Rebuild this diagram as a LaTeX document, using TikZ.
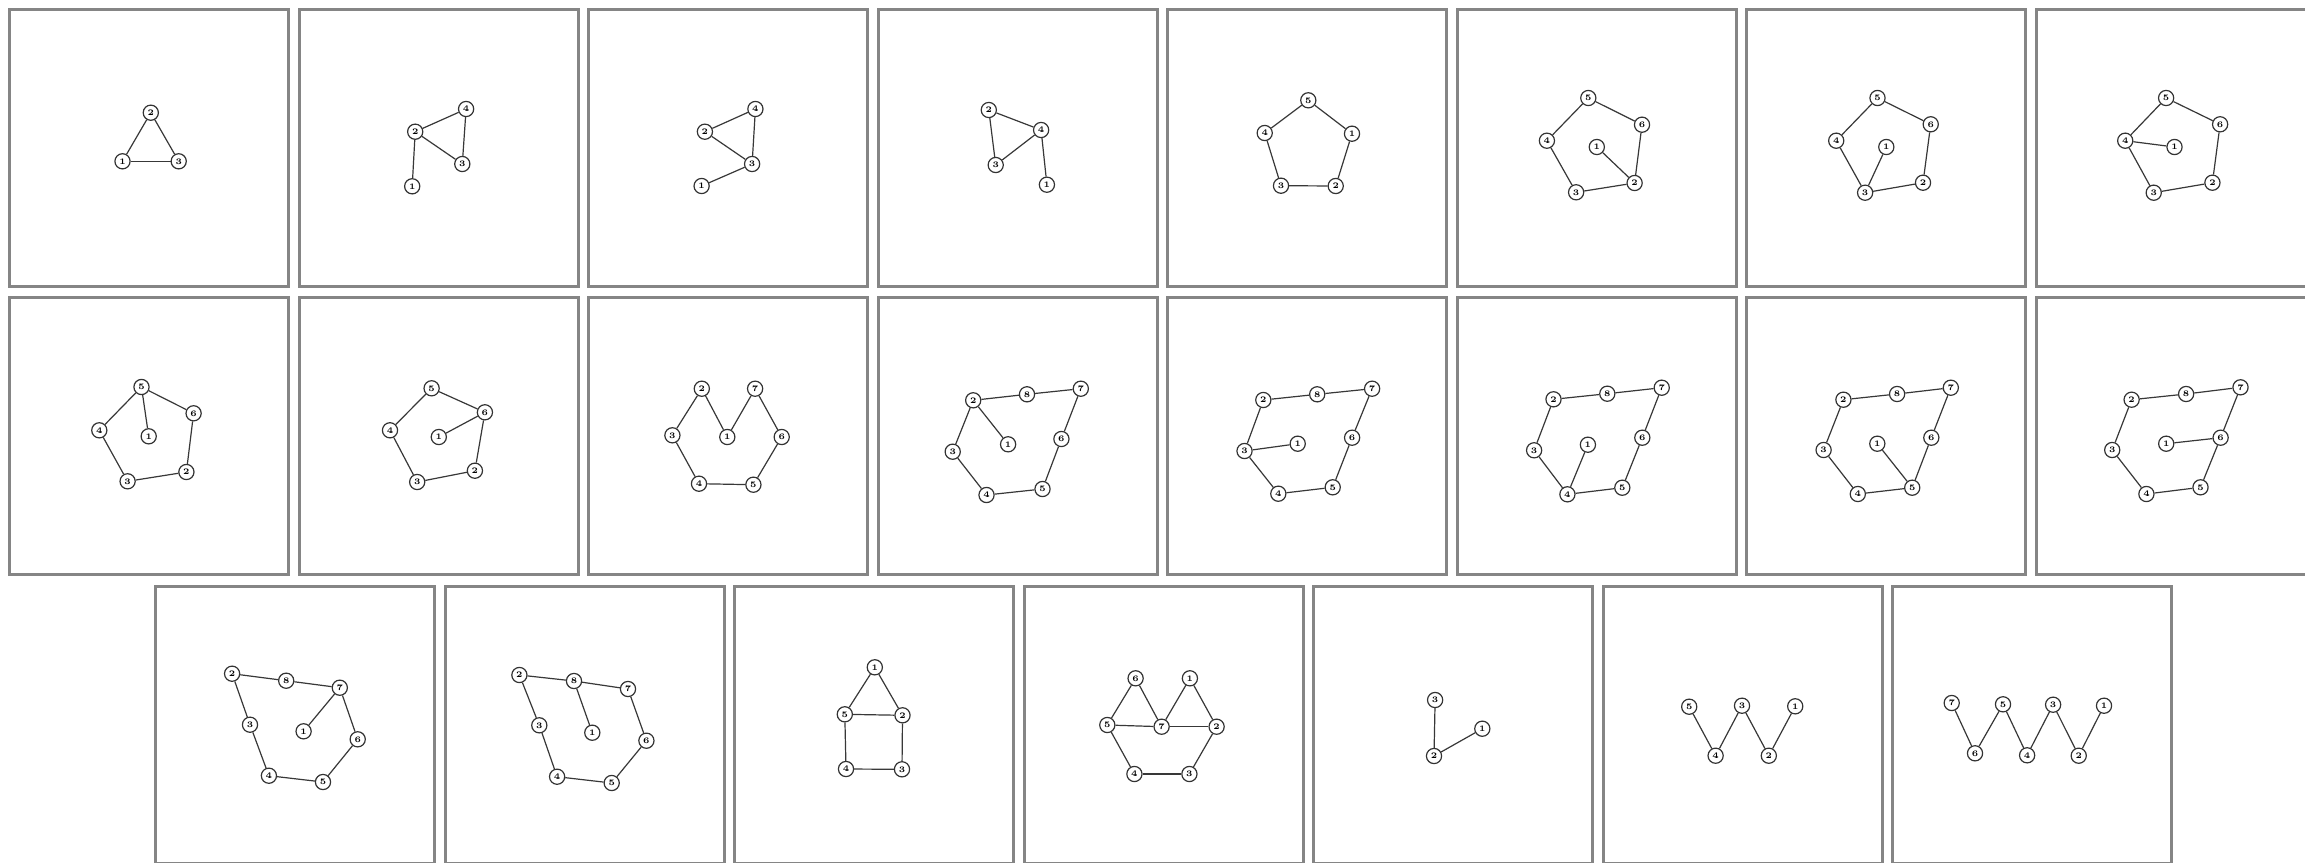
\documentclass[tikz,border=0pt]{standalone}
\begin{document}
\begin{tikzpicture}[x=0.5pt,y=-0.5pt,
  panel/.style={draw=black!48,line width=1.5pt},
  v/.style={circle,draw=black!80,line width=0.6pt,fill=white,minimum size=7.6pt,inner sep=0pt,font=\fontsize{4.2}{4}\selectfont\bfseries},
  e/.style={draw=black!78,line width=0.6pt}]
\useasboundingbox (0,0) rectangle (2305,862);
\clip (0,0) rectangle (2305,862);
\fill[white] (0,0) rectangle (2305,862);
% panels
\foreach \k in {0,...,7} {
  \draw[panel] (9.6+289.5*\k,9.5) rectangle ++(279,277);
  \draw[panel] (9.6+289.5*\k,297.5) rectangle ++(279,277);
}
\foreach \k in {0,...,6} {
  \draw[panel] (155.6+289.5*\k,586.5) rectangle ++(279,277);
}
% ---- row 1 ----
\foreach \n/\x/\y in {2/150.8/112.7,1/122.5/161.3,3/178.7/161.3} \node[v] (a\n) at (\x,\y) {\n};
\foreach \p/\q in {1/2,2/3,1/3} \draw[e] (a\p) -- (a\q);

\foreach \n/\x/\y in {4/466.1/109,2/415.2/131.7,3/462.3/164,1/412.2/186.3} \node[v] (b\n) at (\x,\y) {\n};
\foreach \p/\q in {2/4,2/3,4/3,2/1} \draw[e] (b\p) -- (b\q);

\foreach \n/\x/\y in {4/755.4/109,2/704.9/131.7,3/752.1/164,1/701.6/186} \node[v] (c\n) at (\x,\y) {\n};
\foreach \p/\q in {2/4,2/3,4/3,3/1} \draw[e] (c\p) -- (c\q);

\foreach \n/\x/\y in {2/988.8/110,4/1041.1/130,3/995.7/165,1/1046.9/184.7} \node[v] (d\n) at (\x,\y) {\n};
\foreach \p/\q in {2/4,2/3,4/3,4/1} \draw[e] (d\p) -- (d\q);

\foreach \n/\x/\y in {5/1308.3/100.3,4/1264.7/133,1/1352/133.7,3/1281/185.7,2/1335.7/186} \node[v] (e\n) at (\x,\y) {\n};
\foreach \p/\q in {5/4,5/1,4/3,3/2,2/1} \draw[e] (e\p) -- (e\q);

\foreach \n/\x/\y in {5/1588.3/98,6/1642/124.7,4/1546.9/140.7,1/1596.8/147,2/1634.6/183,3/1576.1/192.3} \node[v] (f\n) at (\x,\y) {\n};
\foreach \p/\q in {5/6,5/4,6/2,2/3,4/3,1/2} \draw[e] (f\p) -- (f\q);

\foreach \n/\x/\y in {5/1877.5/98,6/1930.7/124.3,4/1836.2/140.7,1/1886.3/147,2/1923/182.7,3/1865.1/192.7} \node[v] (g\n) at (\x,\y) {\n};
\foreach \p/\q in {5/6,5/4,6/2,2/3,4/3,1/3} \draw[e] (g\p) -- (g\q);

\foreach \n/\x/\y in {5/2166.1/98,6/2220.1/124.3,4/2125.2/140.7,1/2174.5/147,2/2212.4/182.7,3/2153.7/192.7} \node[v] (h\n) at (\x,\y) {\n};
\foreach \p/\q in {5/6,5/4,6/2,2/3,4/3,4/1} \draw[e] (h\p) -- (h\q);
% ---- row 2 ----
\foreach \n/\x/\y in {5/141.5/387,6/193.6/413.3,4/99.3/430.3,1/148.7/436.3,2/186.4/472,3/127.6/481.3} \node[v] (i\n) at (\x,\y) {\n};
\foreach \p/\q in {5/6,5/4,5/1,6/2,2/3,4/3} \draw[e] (i\p) -- (i\q);

\foreach \n/\x/\y in {5/431.6/388.3,6/484.9/412.3,4/390/430.3,1/438.8/437,2/474.9/470.7,3/417.2/482} \node[v] (j\n) at (\x,\y) {\n};
\foreach \p/\q in {5/6,5/4,6/1,6/2,2/3,4/3} \draw[e] (j\p) -- (j\q);

\foreach \n/\x/\y in {2/701.8/388.7,7/755.1/388.7,3/672.4/435.3,1/727.3/437,6/781.7/437,4/699/483.7,5/753.4/484.7} \node[v] (k\n) at (\x,\y) {\n};
\foreach \p/\q in {2/3,2/1,1/7,7/6,6/5,5/4,4/3} \draw[e] (k\p) -- (k\q);

\foreach \n/\x/\y in {2/973.2/400.3,8/1027/394.3,7/1080.8/388.7,1/1008.1/444.3,6/1061.4/439,3/952.7/451.7,5/1042.5/489,4/986.5/495} \node[v] (l\n) at (\x,\y) {\n};
\foreach \p/\q in {2/8,8/7,7/6,6/5,5/4,4/3,3/2,2/1} \draw[e] (l\p) -- (l\q);

\foreach \n/\x/\y in {2/1263.3/400,8/1317.2/394.3,7/1372.1/388.7,1/1297.7/443.7,6/1352.1/437.7,3/1244.5/451,5/1332.7/487.3,4/1278.3/493.7} \node[v] (m\n) at (\x,\y) {\n};
\foreach \p/\q in {2/8,8/7,7/6,6/5,5/4,4/3,3/2,3/1} \draw[e] (m\p) -- (m\q);

\foreach \n/\x/\y in {2/1553.5/399.3,8/1607.3/393.7,7/1661.7/387.7,1/1587.9/444.7,6/1642.3/437.7,3/1534.1/450.3,5/1622.3/487.7,4/1567.4/494.3} \node[v] (n\n) at (\x,\y) {\n};
\foreach \p/\q in {2/8,8/7,7/6,6/5,5/4,4/3,3/2,4/1} \draw[e] (n\p) -- (n\q);

\foreach \n/\x/\y in {7/1950.8/387.7,8/1897.1/394,2/1843.4/399.7,6/1931.3/437.7,1/1877.3/443.7,3/1823.6/450,5/1912.2/487.7,4/1857.8/494} \node[v] (o\n) at (\x,\y) {\n};
\foreach \p/\q in {2/8,8/7,7/6,6/5,5/4,4/3,3/2,5/1} \draw[e] (o\p) -- (o\q);

\foreach \n/\x/\y in {7/2240.5/387.3,8/2186.1/394,2/2131.6/399.7,6/2220.6/437.7,1/2166.2/443.7,3/2112.2/450,5/2200.5/487.3,4/2146.4/494} \node[v] (p\n) at (\x,\y) {\n};
\foreach \p/\q in {2/8,8/7,7/6,6/5,5/4,4/3,3/2,6/1} \draw[e] (p\p) -- (p\q);
% ---- row 3 ----
\foreach \n/\x/\y in {2/232.1/673.7,8/286.2/680.7,7/339.8/687.7,3/250/724.7,1/303.6/731.3,6/357.7/739.3,4/268.9/775.7,5/323/782} \node[v] (q\n) at (\x,\y) {\n};
\foreach \p/\q in {2/8,8/7,2/3,3/4,4/5,5/6,6/7,7/1} \draw[e] (q\p) -- (q\q);

\foreach \n/\x/\y in {2/519.4/675,8/574/681,7/628/689,3/539.3/725.3,1/592.3/732.7,6/646.4/740.7,4/557.1/776.7,5/611.7/783} \node[v] (r\n) at (\x,\y) {\n};
\foreach \p/\q in {2/8,8/7,2/3,3/4,4/5,5/6,6/7,8/1} \draw[e] (r\p) -- (r\q);

\foreach \n/\x/\y in {1/874.8/667.3,5/844.8/714.3,2/902.5/715.3,4/846/769,3/902/769.3} \node[v] (s\n) at (\x,\y) {\n};
\foreach \p/\q in {1/5,1/2,5/2,5/4,2/3,4/3} \draw[e] (s\p) -- (s\q);

\foreach \n/\x/\y in {6/1135.6/678.3,1/1189.9/678.3,5/1107.3/725,7/1161.6/726.7,2/1216.6/726.7,4/1134.4/774,3/1189.4/774} \node[v] (t\n) at (\x,\y) {\n};
\foreach \p/\q in {6/5,6/7,7/1,1/2,5/7,7/2,5/4,4/3,3/2} \draw[e] (t\p) -- (t\q);

\foreach \n/\x/\y in {3/1435.1/700,1/1482.3/728.7,2/1434/756} \node[v] (u\n) at (\x,\y) {\n};
\foreach \p/\q in {3/2,2/1} \draw[e] (u\p) -- (u\q);

\foreach \n/\x/\y in {5/1689.2/706.7,3/1742/705.7,1/1795.2/706.3,4/1715.6/755.7,2/1768.8/755.7} \node[v] (w\n) at (\x,\y) {\n};
\foreach \p/\q in {5/4,4/3,3/2,2/1} \draw[e] (w\p) -- (w\q);

\foreach \n/\x/\y in {7/1951.7/703,5/2003/704.3,3/2053.1/704.7,1/2104/705.7,6/1975/753.3,4/2027.1/755.3,2/2078.7/755.7} \node[v] (z\n) at (\x,\y) {\n};
\foreach \p/\q in {7/6,6/5,5/4,4/3,3/2,2/1} \draw[e] (z\p) -- (z\q);
\end{tikzpicture}
\end{document}
